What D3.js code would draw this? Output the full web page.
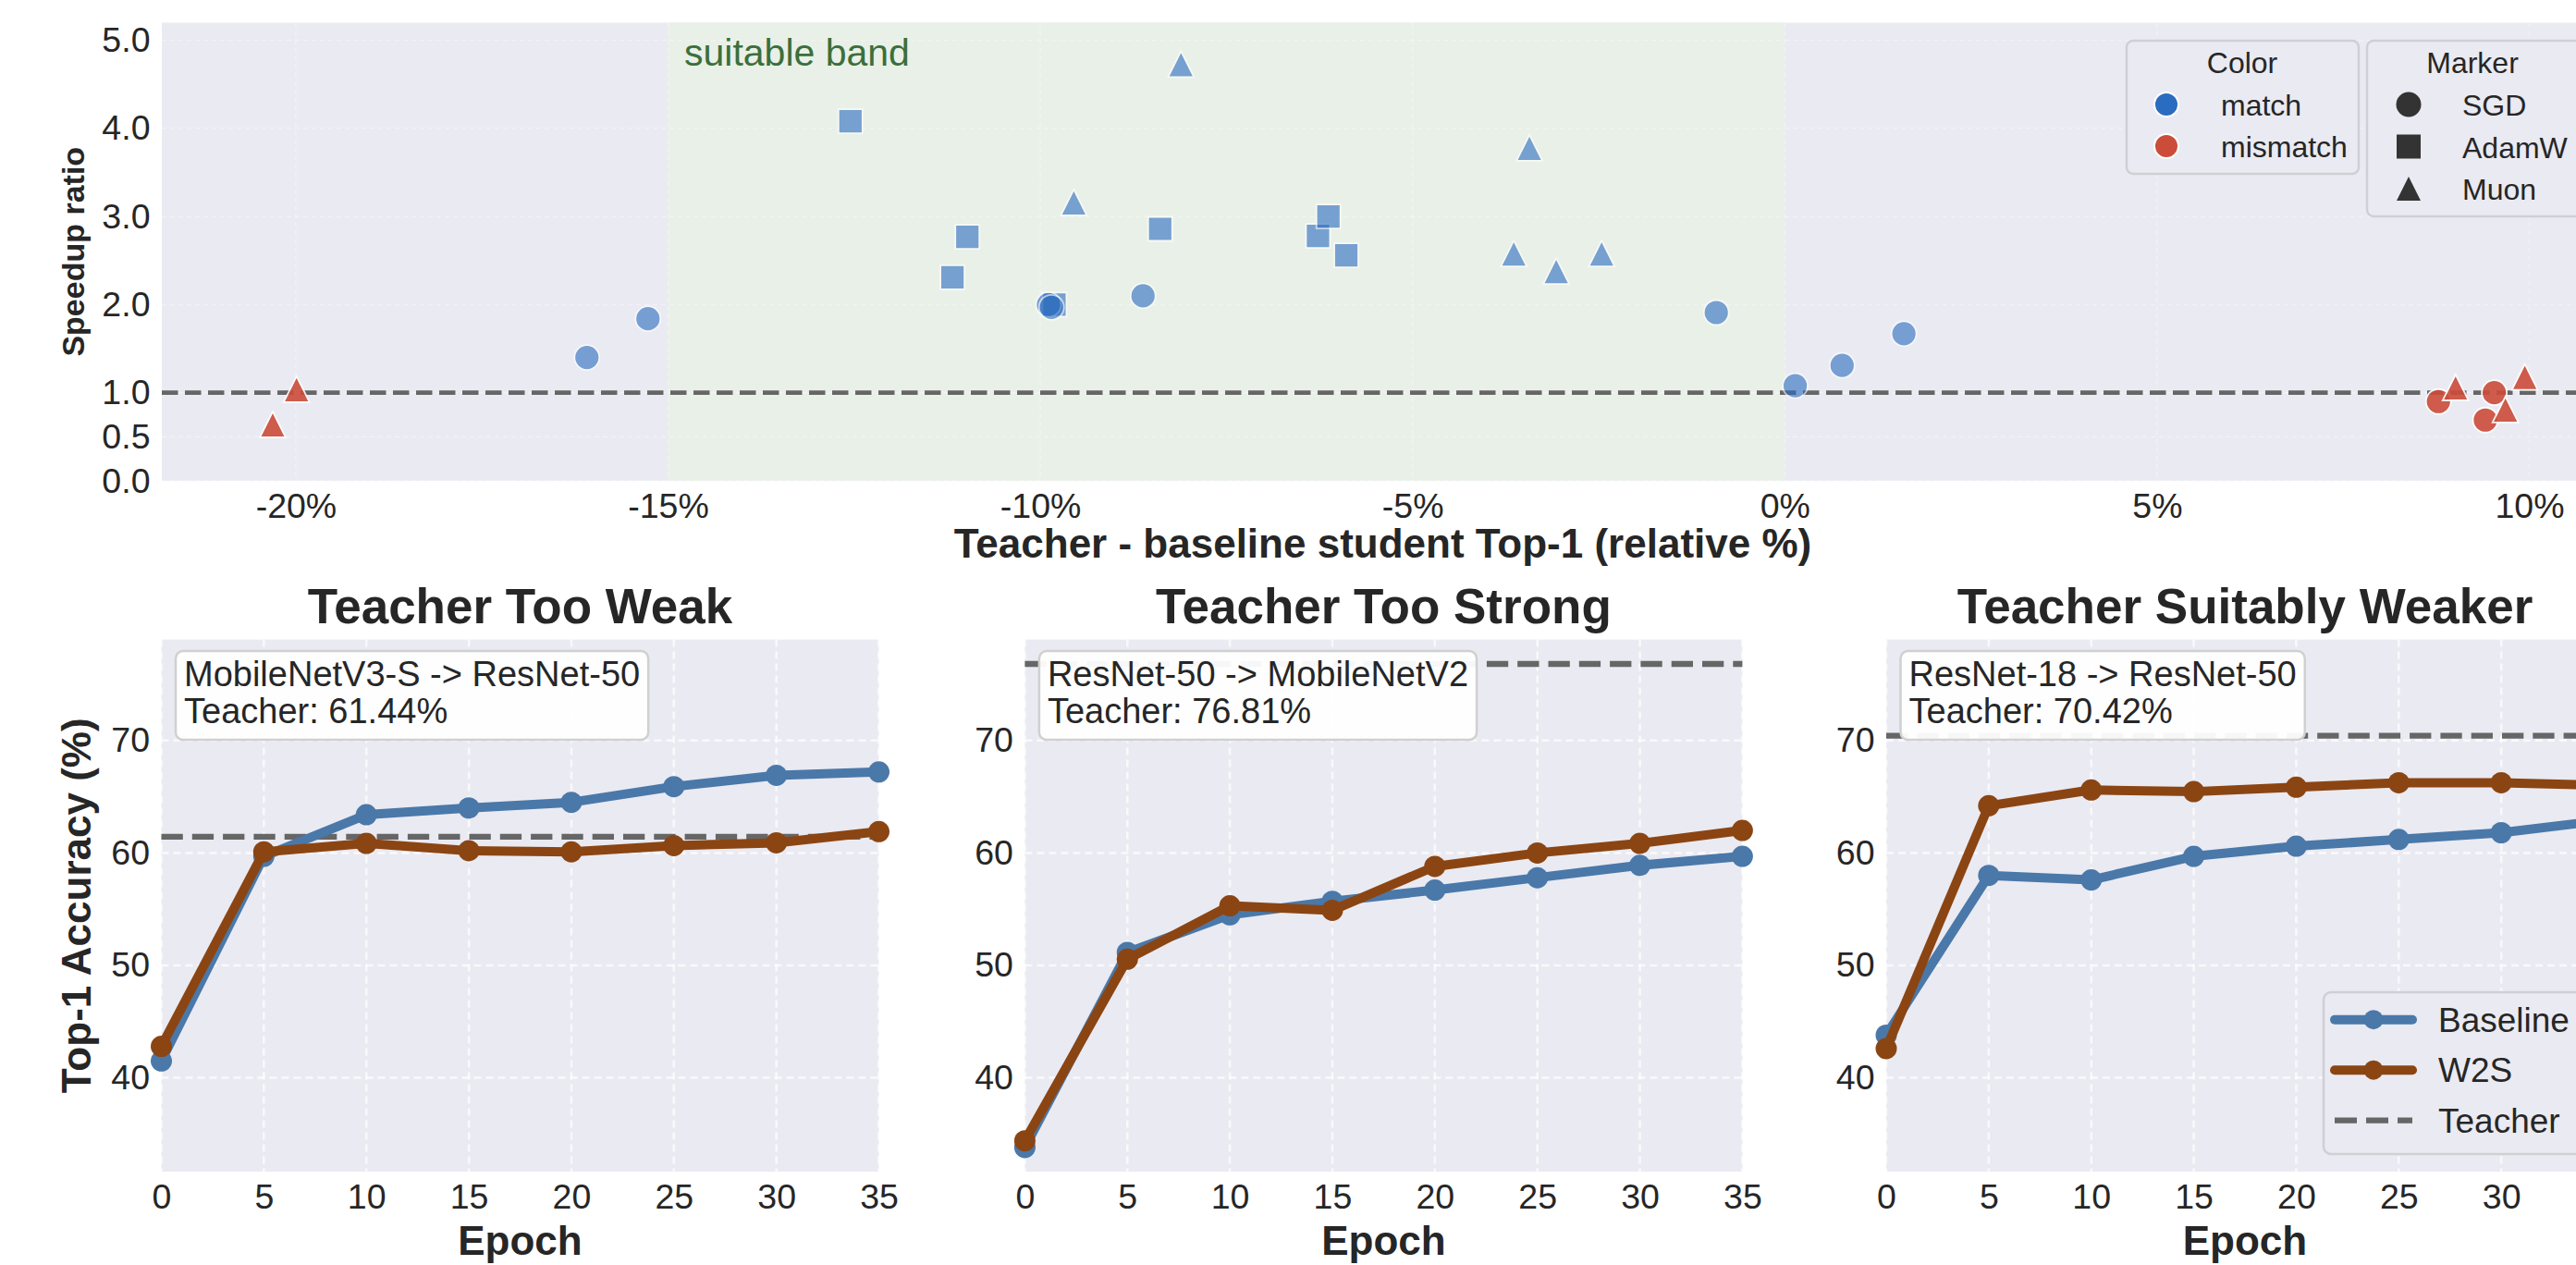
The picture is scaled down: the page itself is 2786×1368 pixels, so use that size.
<!DOCTYPE html>
<html>
<head>
<meta charset="utf-8">
<script src="https://cdn.jsdelivr.net/npm/d3@7"></script>
<style>
  body { margin: 0; background: #fff; }
  text { font-family: "Liberation Sans", Arial, sans-serif; fill: #262626; }
</style>
</head>
<body>
<div id="chart"></div>
<script>
(function() {

// ---- top scatter data ----
var gapPct   = [-20.31, -19.99, -16.09, -15.27, -12.55, -11.18, -10.98, -9.81, -9.89, -9.85, -9.55, -8.62, -8.39, -8.11,
                -6.27, -6.13, -5.89, -3.64, -3.43, -3.07, -2.46, -0.92, 0.14, 0.77, 1.60,
                8.78, 9.01, 9.41, 9.53, 9.68, 9.94];
var speedup  = [0.64, 1.04, 1.40, 1.84, 4.08, 2.31, 2.77, 2.00, 2.00, 1.97, 3.16, 2.10, 2.86, 4.73,
                2.78, 3.00, 2.56, 2.58, 3.78, 2.38, 2.58, 1.91, 1.08, 1.31, 1.67,
                0.90, 1.06, 0.69, 1.00, 0.81, 1.18];
var colorGrp = ["mismatch", "mismatch", "match", "match", "match", "match", "match", "match", "match", "match", "match", "match", "match", "match",
                "match", "match", "match", "match", "match", "match", "match", "match", "match", "match", "match",
                "mismatch", "mismatch", "mismatch", "mismatch", "mismatch", "mismatch"];
var optim    = ["Muon", "Muon", "SGD", "SGD", "AdamW", "AdamW", "AdamW", "AdamW", "SGD", "SGD", "Muon", "SGD", "AdamW", "Muon",
                "AdamW", "AdamW", "AdamW", "Muon", "Muon", "Muon", "Muon", "SGD", "SGD", "SGD", "SGD",
                "SGD", "Muon", "SGD", "SGD", "Muon", "Muon"];
var gapTicks = [-20, -15, -10, -5, 0, 5, 10];
var speedTicks = [0, 0.5, 1, 2, 3, 4, 5];
var colorLabels = ["match", "mismatch"];
var markerLabels = ["SGD", "AdamW", "Muon"];

// ---- bottom line data ----
var epochs = [0, 5, 10, 15, 20, 25, 30, 35];
var panelTitles = ["Teacher Too Weak", "Teacher Too Strong", "Teacher Suitably Weaker"];
var pairNames = ["MobileNetV3-S -> ResNet-50", "ResNet-50 -> MobileNetV2", "ResNet-18 -> ResNet-50"];
var teacherAcc = [61.44, 76.81, 70.42];
var baselineAcc = [
  [41.5, 59.7, 63.4, 64.0, 64.5, 65.9, 66.9, 67.2],
  [33.8, 51.15, 54.5, 55.7, 56.7, 57.8, 58.9, 59.7],
  [43.8, 58.0, 57.6, 59.7, 60.6, 61.2, 61.8, 62.9]
];
var w2sAcc = [
  [42.8, 60.1, 60.85, 60.2, 60.1, 60.65, 60.9, 61.9],
  [34.4, 50.55, 55.3, 54.9, 58.8, 60.0, 60.85, 62.0],
  [42.6, 64.2, 65.6, 65.45, 65.85, 66.25, 66.25, 66.0]
];
var accTicks = [40, 50, 60, 70];
var lineLabels = ["Baseline", "W2S", "Teacher"];

var width = 2786, height = 1368;
var bg = "#eaeaf2";
var colors = {match: "#2a6cbf", mismatch: "#cc4c3a"};
var lineColors = {Baseline: "#4a78a9", W2S: "#8b4513"};

var svg = d3.select("#chart").append("svg")
    .attr("width", width)
    .attr("height", height);

svg.append("rect").attr("width", width).attr("height", height).attr("fill", "#fff");

// marker shapes, centred on the bounding box like matplotlib
function shape(kind, s) {
  var h = s / 2;
  if (kind == "SGD") return d3.symbol(d3.symbolCircle, Math.PI * h * h)();
  if (kind == "AdamW") return "M" + (-h) + "," + (-h) + "H" + h + "V" + h + "H" + (-h) + "Z";
  return "M0," + (-h) + "L" + h + "," + h + "L" + (-h) + "," + h + "Z";
}

// ================= top scatter =================
var tm = {left: 175, right: 2816, top: 24.5, bottom: 520};

var x = d3.scaleLinear().domain([-21.8, 11.0]).range([tm.left, tm.right]);
var y = d3.scaleLinear().domain([0, 5.2]).range([tm.bottom, tm.top]);

var top = svg.append("g");

top.append("rect")
    .attr("x", tm.left).attr("y", tm.top)
    .attr("width", tm.right - tm.left).attr("height", tm.bottom - tm.top)
    .attr("fill", bg);

top.append("rect")
    .attr("x", x(-15)).attr("y", tm.top)
    .attr("width", x(0) - x(-15)).attr("height", tm.bottom - tm.top)
    .attr("fill", "#e9f0e8");

top.selectAll(".vgrid").data(gapTicks).enter().append("line")
    .attr("x1", function(d) { return x(d); }).attr("x2", function(d) { return x(d); })
    .attr("y1", tm.top).attr("y2", tm.bottom)
    .attr("stroke", "#fff").attr("stroke-width", 1.5)
    .attr("stroke-dasharray", "5,4").attr("opacity", 0.35);

top.selectAll(".hgrid").data(speedTicks).enter().append("line")
    .attr("x1", tm.left).attr("x2", tm.right)
    .attr("y1", function(d) { return y(d); }).attr("y2", function(d) { return y(d); })
    .attr("stroke", "#fff").attr("stroke-width", 1.5)
    .attr("stroke-dasharray", "5,4").attr("opacity", 0.35);

top.append("text")
    .attr("x", 740).attr("y", 71)
    .style("font-size", "41px").style("fill", "#3b6f3b")
    .text("suitable band");

top.append("line")
    .attr("x1", tm.left).attr("x2", tm.right)
    .attr("y1", y(1)).attr("y2", y(1))
    .attr("stroke", "#666").attr("stroke-width", 4.7)
    .attr("stroke-dasharray", "17.5,7.5");

top.selectAll(".pt")
    .data(d3.range(gapPct.length))
  .enter().append("path")
    .attr("class", "pt")
    .attr("d", function(i) { return shape(optim[i], optim[i] == "SGD" ? 27 : optim[i] == "AdamW" ? 26 : 28); })
    .attr("transform", function(i) { return "translate(" + x(gapPct[i]) + "," + y(speedup[i]) + ")"; })
    .attr("fill", function(i) { return colors[colorGrp[i]]; })
    .attr("stroke", "#fff").attr("stroke-width", 1.8)
    .attr("opacity", function(i) { return colorGrp[i] == "match" ? 0.6 : 0.9; });

var xAxisTop = top.append("g")
    .attr("transform", "translate(0," + tm.bottom + ")")
    .call(d3.axisBottom(x).tickValues(gapTicks).tickSize(0).tickPadding(13)
      .tickFormat(function(d) { return d + "%"; }));
var yAxisTop = top.append("g")
    .attr("transform", "translate(" + tm.left + ",0)")
    .call(d3.axisLeft(y).tickValues(speedTicks).tickSize(0).tickPadding(12.5).tickFormat(d3.format(".1f")));
[xAxisTop, yAxisTop].forEach(function(a) {
  a.select(".domain").remove();
  a.selectAll("text").style("font-size", "37.5px").style("font-family", "Liberation Sans, Arial, sans-serif").attr("fill", "#262626");
});

top.append("text")
    .attr("transform", "translate(91," + (tm.top + tm.bottom) / 2 + ") rotate(-90)")
    .attr("text-anchor", "middle")
    .style("font-size", "34px").style("font-weight", "bold")
    .text("Speedup ratio");

top.append("text")
    .attr("x", (tm.left + tm.right) / 2).attr("y", 603)
    .attr("text-anchor", "middle")
    .style("font-size", "44px").style("font-weight", "bold")
    .text("Teacher - baseline student Top-1 (relative %)");

// legends
var lg = top.append("g").style("font-size", "32px");
lg.append("rect").attr("x", 2300).attr("y", 44).attr("width", 251).attr("height", 144).attr("rx", 7)
    .attr("fill", bg).attr("stroke", "#cfcfd4").attr("stroke-width", 2.5);
lg.append("text").attr("x", 2425).attr("y", 79).attr("text-anchor", "middle").text("Color");
colorLabels.forEach(function(c, i) {
  var cy = 113 + i * 45;
  lg.append("circle").attr("cx", 2343).attr("cy", cy).attr("r", 13)
      .attr("fill", colors[c]).attr("stroke", "#fff").attr("stroke-width", 2);
  lg.append("text").attr("x", 2402).attr("y", cy + 12).text(c);
});

lg.append("rect").attr("x", 2560).attr("y", 44).attr("width", 280).attr("height", 190).attr("rx", 7)
    .attr("fill", bg).attr("stroke", "#cfcfd4").attr("stroke-width", 2.5);
lg.append("text").attr("x", 2674).attr("y", 79).attr("text-anchor", "middle").text("Marker");
markerLabels.forEach(function(m, i) {
  var cy = 113 + i * 45.5;
  lg.append("path").attr("d", shape(m, m == "SGD" ? 27 : 26))
      .attr("transform", "translate(2605," + cy + ")")
      .attr("fill", "#333");
  lg.append("text").attr("x", 2663).attr("y", cy + 12).text(m);
});

// ================= bottom line panels =================
var bm = {top: 691.6, bottom: 1267, width: 776};
var lefts = [174.5, 1108.4, 2040];

var yb = d3.scaleLinear().domain([31.66, 78.98]).range([bm.bottom, bm.top]);

panelTitles.forEach(function(title, p) {
  var left = lefts[p];
  var xb = d3.scaleLinear().domain([0, 35]).range([left, left + bm.width]);
  var g = svg.append("g");

  g.append("rect")
      .attr("x", left).attr("y", bm.top)
      .attr("width", bm.width).attr("height", bm.bottom - bm.top)
      .attr("fill", bg);

  g.selectAll(".vg").data(epochs).enter().append("line")
      .attr("x1", function(d) { return xb(d); }).attr("x2", function(d) { return xb(d); })
      .attr("y1", bm.top).attr("y2", bm.bottom)
      .attr("stroke", "#fff").attr("stroke-width", 2.5)
      .attr("stroke-dasharray", "8,5").attr("opacity", 0.75);
  g.selectAll(".hg").data(accTicks).enter().append("line")
      .attr("x1", left).attr("x2", left + bm.width)
      .attr("y1", function(d) { return yb(d); }).attr("y2", function(d) { return yb(d); })
      .attr("stroke", "#fff").attr("stroke-width", 2.5)
      .attr("stroke-dasharray", "8,5").attr("opacity", 0.75);

  g.append("line")
      .attr("x1", left).attr("x2", left + bm.width)
      .attr("y1", yb(teacherAcc[p])).attr("y2", yb(teacherAcc[p]))
      .attr("stroke", "#666").attr("stroke-width", 6.3)
      .attr("stroke-dasharray", "23.3,10");

  var line = d3.line()
      .x(function(d, i) { return xb(epochs[i]); })
      .y(function(d) { return yb(d); });

  [["Baseline", baselineAcc[p]], ["W2S", w2sAcc[p]]].forEach(function(s) {
    g.append("path")
        .datum(s[1])
        .attr("d", line)
        .attr("fill", "none")
        .attr("stroke", lineColors[s[0]]).attr("stroke-width", 10)
        .attr("stroke-linejoin", "round");
    g.selectAll(".dot" + s[0]).data(s[1]).enter().append("circle")
        .attr("cx", function(d, i) { return xb(epochs[i]); })
        .attr("cy", function(d) { return yb(d); })
        .attr("r", 11.5)
        .attr("fill", lineColors[s[0]]);
  });

  // the last panel runs past the page edge, so its 35 label is not shown
  var shownEpochs = epochs.filter(function(e) { return xb(e) + 20 < width; });
  var xa = g.append("g")
      .attr("transform", "translate(0," + bm.bottom + ")")
      .call(d3.axisBottom(xb).tickValues(shownEpochs).tickSize(0).tickPadding(13));
  var ya = g.append("g")
      .attr("transform", "translate(" + left + ",0)")
      .call(d3.axisLeft(yb).tickValues(accTicks).tickSize(0).tickPadding(12.5));
  [xa, ya].forEach(function(a) {
    a.select(".domain").remove();
    a.selectAll("text").style("font-size", "37.5px").style("font-family", "Liberation Sans, Arial, sans-serif").attr("fill", "#262626");
  });

  // annotation box
  var ann = g.append("g");
  var box = ann.append("rect");
  var t = ann.append("text").style("font-size", "38px");
  t.append("tspan").attr("x", left + 24.5).attr("y", bm.top + 50.4).text(pairNames[p]);
  t.append("tspan").attr("x", left + 24.5).attr("y", bm.top + 90.4).text("Teacher: " + teacherAcc[p].toFixed(2) + "%");
  var bb = t.node().getBBox();
  box.attr("x", left + 15.5).attr("y", bm.top + 12.4)
      .attr("width", bb.width + 18).attr("height", 96).attr("rx", 8)
      .attr("fill", "#fff").attr("fill-opacity", 0.95)
      .attr("stroke", "#d0d0d0").attr("stroke-width", 2.5);

  g.append("text")
      .attr("x", left + bm.width / 2).attr("y", 674)
      .attr("text-anchor", "middle")
      .style("font-size", "53px").style("font-weight", "bold")
      .text(title);

  g.append("text")
      .attr("x", left + bm.width / 2).attr("y", 1357)
      .attr("text-anchor", "middle")
      .style("font-size", "44px").style("font-weight", "bold")
      .text("Epoch");

  if (p == 0) {
    g.append("text")
        .attr("transform", "translate(98," + (bm.top + bm.bottom) / 2 + ") rotate(-90)")
        .attr("text-anchor", "middle")
        .style("font-size", "44px").style("font-weight", "bold")
        .text("Top-1 Accuracy (%)");
  }

  if (p == 2) {
    var leg = g.append("g").style("font-size", "37px");
    leg.append("rect").attr("x", 2513).attr("y", 1073).attr("width", 320).attr("height", 175).attr("rx", 8)
        .attr("fill", bg).attr("stroke", "#cfcfd4").attr("stroke-width", 2.5);
    lineLabels.forEach(function(name, i) {
      var cy = 1102.7 + i * 54.5;
      var l = leg.append("line").attr("x1", 2525).attr("x2", 2609).attr("y1", cy).attr("y2", cy);
      if (name == "Teacher") {
        l.attr("stroke", "#666").attr("stroke-width", 6.3).attr("stroke-dasharray", "24,10");
      } else {
        l.attr("stroke", lineColors[name]).attr("stroke-width", 10).attr("stroke-linecap", "round");
        leg.append("circle").attr("cx", 2567).attr("cy", cy).attr("r", 10.5).attr("fill", lineColors[name]);
      }
      leg.append("text").attr("x", 2637).attr("y", cy + 13).text(name);
    });
  }
});

})();
</script>
</body>
</html>
